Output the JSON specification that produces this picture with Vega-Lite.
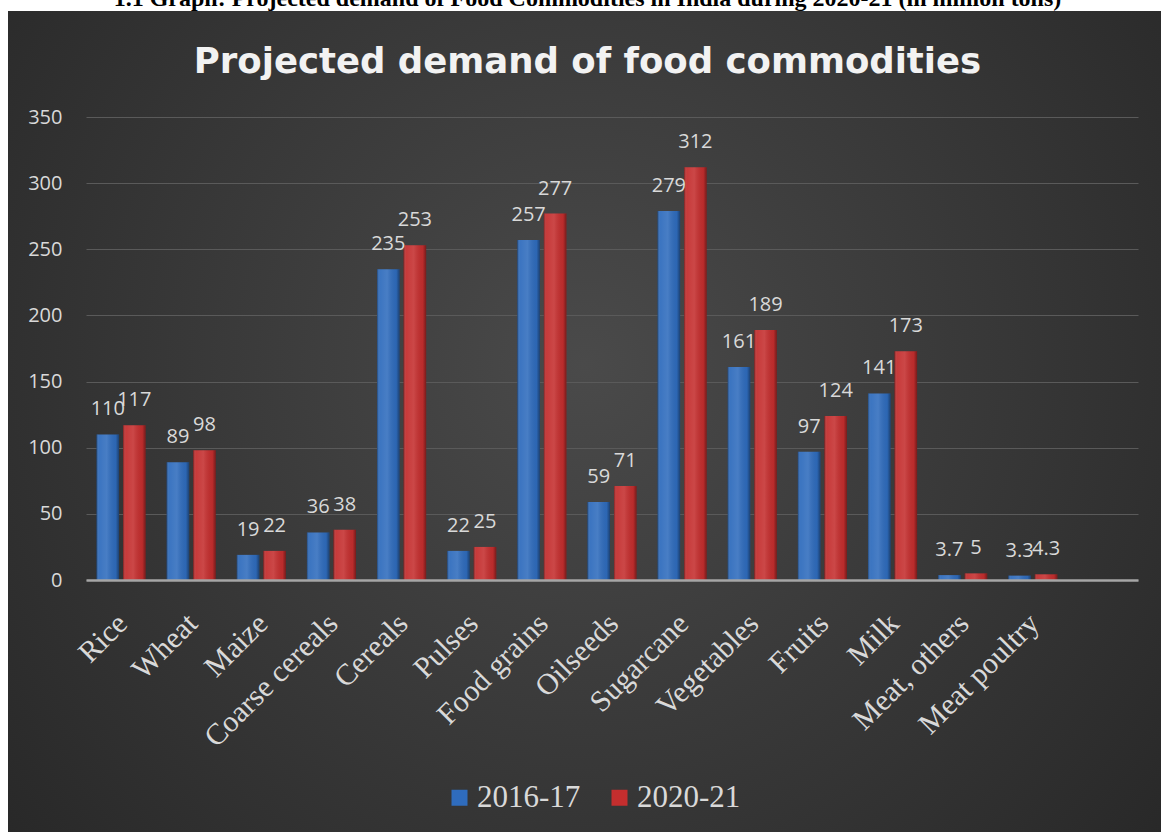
{
  "$schema": "https://vega.github.io/schema/vega-lite/v6.json",
  "width": 1153,
  "height": 821,
  "autosize": {"type": "none"},
  "padding": {"left": 8, "top": 11, "right": 0, "bottom": 0},
  "background": "white",
  "title": {
    "text": "1.1 Graph: Projected demand of Food Commodities in India during 2020-21 (in million tons)",
    "subtitle": "Projected demand of food commodities",
    "anchor": "middle",
    "frame": "group",
    "font": "Liberation Serif",
    "fontSize": 24,
    "fontWeight": "bold",
    "color": "#000000",
    "subtitleFont": "DejaVu Sans",
    "subtitleFontSize": 35.5,
    "subtitleFontWeight": "bold",
    "subtitleColor": "#f2f2f2",
    "subtitlePadding": 34,
    "offset": -69,
    "dx": 3
  },
  "view": {
    "fill": {
      "gradient": "radial",
      "x1": 0.5, "y1": 0.45, "r1": 0,
      "x2": 0.5, "y2": 0.45, "r2": 0.75,
      "stops": [
        {"offset": 0, "color": "#4a4a4a"},
        {"offset": 1, "color": "#232323"}
      ]
    },
    "stroke": null
  },
  "data": {
    "values": [
      {"item": "Rice", "series": "2016-17", "value": 110},
      {"item": "Rice", "series": "2020-21", "value": 117},
      {"item": "Wheat", "series": "2016-17", "value": 89},
      {"item": "Wheat", "series": "2020-21", "value": 98},
      {"item": "Maize", "series": "2016-17", "value": 19},
      {"item": "Maize", "series": "2020-21", "value": 22},
      {"item": "Coarse cereals", "series": "2016-17", "value": 36},
      {"item": "Coarse cereals", "series": "2020-21", "value": 38},
      {"item": "Cereals", "series": "2016-17", "value": 235},
      {"item": "Cereals", "series": "2020-21", "value": 253},
      {"item": "Pulses", "series": "2016-17", "value": 22},
      {"item": "Pulses", "series": "2020-21", "value": 25},
      {"item": "Food grains", "series": "2016-17", "value": 257},
      {"item": "Food grains", "series": "2020-21", "value": 277},
      {"item": "Oilseeds", "series": "2016-17", "value": 59},
      {"item": "Oilseeds", "series": "2020-21", "value": 71},
      {"item": "Sugarcane", "series": "2016-17", "value": 279},
      {"item": "Sugarcane", "series": "2020-21", "value": 312},
      {"item": "Vegetables", "series": "2016-17", "value": 161},
      {"item": "Vegetables", "series": "2020-21", "value": 189},
      {"item": "Fruits", "series": "2016-17", "value": 97},
      {"item": "Fruits", "series": "2020-21", "value": 124},
      {"item": "Milk", "series": "2016-17", "value": 141},
      {"item": "Milk", "series": "2020-21", "value": 173},
      {"item": "Meat, others", "series": "2016-17", "value": 3.7},
      {"item": "Meat, others", "series": "2020-21", "value": 5},
      {"item": "Meat poultry", "series": "2016-17", "value": 3.3},
      {"item": "Meat poultry", "series": "2020-21", "value": 4.3}
    ]
  },
  "encoding": {
    "x": {
      "field": "item",
      "type": "nominal",
      "sort": null,
      "title": null,
      "scale": {
        "domain": ["Rice", "Wheat", "Maize", "Coarse cereals", "Cereals", "Pulses", "Food grains", "Oilseeds", "Sugarcane", "Vegetables", "Fruits", "Milk", "Meat, others", "Meat poultry", " "],
        "range": [78, 1130],
        "paddingInner": 0.3,
        "paddingOuter": 0.15
      },
      "axis": {
        "offset": -252,
        "zindex": 1,
        "domainColor": "#a6a6a6",
        "domainWidth": 2.5,
        "ticks": false,
        "tickSize": 0,
        "grid": false,
        "labelAngle": -45,
        "labelAlign": "right",
        "labelBaseline": "top",
        "labelPadding": 28,
        "labelOffset": -9,
        "labelFont": "Liberation Serif",
        "labelFontSize": 30,
        "labelColor": "#d9d9d9",
        "labelOverlap": false,
        "labelLimit": 400
      }
    },
    "xOffset": {
      "field": "series",
      "type": "nominal",
      "scale": {"paddingInner": 0.15}
    },
    "y": {
      "field": "value",
      "type": "quantitative",
      "title": null,
      "scale": {"domain": [0, 350], "range": [569, 106], "nice": false},
      "axis": {
        "offset": -54,
        "values": [0, 50, 100, 150, 200, 250, 300, 350],
        "domain": false,
        "ticks": false,
        "tickSize": 0,
        "labelPadding": 0,
        "grid": true,
        "gridColor": "#5a5a5a",
        "gridWidth": 1,
        "labelFont": "Open Sans",
        "labelFontSize": 20,
        "labelColor": "#d9d9d9"
      }
    }
  },
  "layer": [
    {
      "mark": {"type": "bar"},
      "encoding": {
        "color": {
          "field": "series",
          "type": "nominal",
          "scale": {"domain": ["2016-17", "2020-21"], "range": ["#2f6cbd", "#c42e2e"]},
          "legend": {
            "orient": "none",
            "legendX": 436,
            "legendY": 771,
            "direction": "horizontal",
            "title": null,
            "symbolType": "square",
            "symbolSize": 256,
            "symbolStrokeWidth": 0,
            "symbolOpacity": 1,
            "labelFont": "Liberation Serif",
            "labelFontSize": 31,
            "labelColor": "#d9d9d9",
            "labelOffset": 2,
            "columnPadding": 23,
            "padding": 0
          }
        }
      }
    },
    {
      "mark": {
        "type": "bar",
        "color": {
          "gradient": "linear",
          "x1": 0, "y1": 0, "x2": 1, "y2": 0,
          "stops": [
            {"offset": 0, "color": "rgba(0,0,0,0.35)"},
            {"offset": 0.12, "color": "rgba(255,255,255,0.06)"},
            {"offset": 0.45, "color": "rgba(255,255,255,0.12)"},
            {"offset": 0.85, "color": "rgba(0,0,0,0.05)"},
            {"offset": 1, "color": "rgba(0,0,0,0.4)"}
          ]
        }
      }
    },
    {
      "mark": {
        "type": "text",
        "dy": -19,
        "baseline": "alphabetic",
        "font": "Open Sans",
        "fontSize": 20,
        "color": "#d9d9d9"
      },
      "encoding": {
        "text": {"field": "value", "type": "quantitative"}
      }
    }
  ]
}
